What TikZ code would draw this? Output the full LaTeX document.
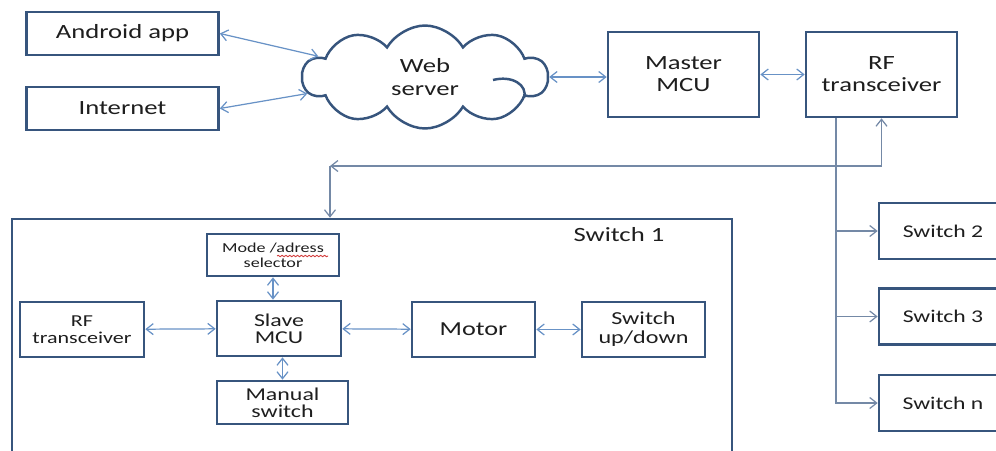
\documentclass[tikz,border=0pt]{standalone}
\usepackage{fontspec}
\setmainfont[FakeStretch=1.32]{Carlito}
\usepackage{xcolor}
\usepackage{tikz}
\usetikzlibrary{arrows.meta, positioning, calc, shapes.symbols, decorations.pathmorphing}
\definecolor{boxblue}{HTML}{37557D}
\definecolor{linkblue}{HTML}{6892C6}
\definecolor{trunkgrey}{HTML}{7489A6}
\definecolor{textgrey}{HTML}{1E1E1E}
\definecolor{spellred}{HTML}{D23A3A}
\tikzset{
  tbox/.style={draw=boxblue, line width=1.5pt, fill=white, align=center, inner sep=2pt, text=textgrey, font=\fontsize{11.5}{12.5}\selectfont},
  twide/.style={tbox, minimum width=3.84cm, minimum height=0.86cm},
  tbig/.style={tbox, minimum width=3.02cm, minimum height=1.7cm},
  tinner/.style={tbox, minimum width=2.48cm, minimum height=1.1cm, font=\fontsize{10.3}{9.5}\selectfont},
  tswitch/.style={tbox, minimum width=2.56cm, minimum height=1.12cm, font=\fontsize{10.2}{11}\selectfont},
  tframe/.style={draw=boxblue, line width=1.5pt, minimum width=14.4cm, minimum height=5.02cm},
  tcloud/.style={cloud, cloud puffs=10, cloud puff arc=120, cloud ignores aspect, draw=boxblue, line width=1.4pt, fill=white, align=center, text=textgrey, minimum width=4.9cm, minimum height=2.06cm, font=\fontsize{11.5}{13.5}\selectfont},
  tlbl/.style={text=textgrey, inner sep=1pt, font=\fontsize{11.5}{12.5}\selectfont},
  tflow/.style={-{Straight Barb[length=1.4mm, width=2.2mm]}, line width=0.7pt, linkblue},
  tflowG/.style={tflow, trunkgrey},
  tbi/.style={{Straight Barb[length=1.4mm, width=2.2mm]}-{Straight Barb[length=1.4mm, width=2.2mm]}, line width=0.7pt, linkblue},
  tspell/.style={spellred, line width=0.5pt, decorate, decoration={snake, amplitude=0.4pt, segment length=2.2pt}},
}

\begin{document}
\begin{tikzpicture}[x=0.02cm, y=-0.02cm]
  \useasboundingbox (0,0) rectangle (996,450);

  % web side
  \node[twide] (android) at (122.5,33.5) {Android app};
  \node[twide] (internet) at (122.5,108.5) {Internet};
  \node[tcloud] (web) at (425,77) {Web\\server};
  \draw[boxblue, line width=1.4pt] (493,80) .. controls (512,75) and (528,85) .. (524,98);
  \node[tbig] (master) at (683.5,74.5) {Master\\MCU};
  \node[tbig] (rfmaster) at (881.5,74.5) {RF\\transceiver};

  \draw[tbi] (android.east) -- (web.169);
  \draw[tbi] (internet.east) -- (web.188);
  \draw[tbi] (web.east) -- (web.east -| master.west);
  \draw[tbi] (master) -- (rfmaster);

  % switch 1 and its parts
  \node[tframe] (sw1) at (372,344.5) {};
  \node[tlbl] (sw1lbl) at (619,235) {Switch 1};
  \node[tbox, minimum width=2.64cm, minimum height=0.84cm, font=\fontsize{7.8}{8.6}\selectfont] (mode) at (273,255) {Mode /adress\\selector};
  \draw[tspell] ([shift={(4,1)}]mode.center) -- ++(51,0);
  \node[tinner] (slave) at (279,328.5) {Slave\\MCU};
  \node[tinner, font=\fontsize{9.5}{9.6}\selectfont] (rfslave) at (82,329.5) {RF\\transceiver};
  \node[tinner, minimum width=2.62cm, minimum height=0.86cm] (manual) at (282.5,402.5) {Manual\\switch};
  \node[tinner, minimum width=2.46cm, font=\fontsize{11.3}{12}\selectfont] (motor) at (473.5,329.5) {Motor};
  \node[tinner, minimum width=2.46cm, font=\fontsize{10.4}{10.8}\selectfont] (updown) at (643.5,329.5) {Switch\\up/down};

  \draw[tbi] (rfslave) -- (slave);
  \draw[tbi] (slave) -- (motor);
  \draw[tbi] (motor) -- (updown);
  \draw[tbi] (mode.south) -- (mode.south |- slave.north);
  \draw[tbi] (manual.north |- slave.south) -- (manual.north);

  % the other switches
  \node[tswitch] (sw2) at (943,231) {Switch 2};
  \node[tswitch] (sw3) at (943,316.5) {Switch 3};
  \node[tswitch] (swn) at (943,403) {Switch n};

  % radio links
  \coordinate (trunk) at ([xshift=-0.91cm]rfmaster.south);
  \coordinate (bend) at (330,166);
  \draw[tflowG] (trunk) |- (swn.west);
  \draw[tflowG] (trunk |- sw2.west) -- (sw2.west);
  \draw[tflowG] (trunk |- sw3.west) -- (sw3.west);
  \draw[tbi, trunkgrey] (rfmaster.south) |- (bend);
  \draw[tflowG] (bend) -- (bend |- sw1.north);
\end{tikzpicture}
\end{document}
